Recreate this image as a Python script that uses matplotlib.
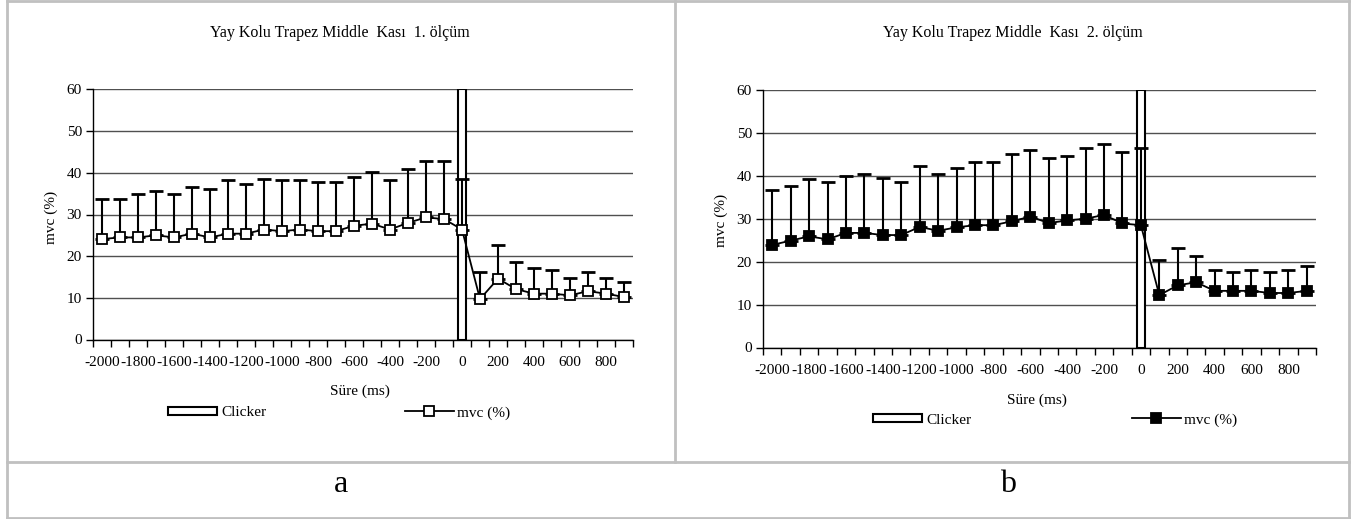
import matplotlib
matplotlib.use("Agg")
import matplotlib.pyplot as plt
from matplotlib.lines import Line2D
import numpy as np

plt.rcParams['font.family'] = ['Liberation Serif', 'DejaVu Serif']

# ---- data ----
times = list(range(-2000, 1000, 100))          # Süre (ms)
tick_labels = [str(t) if t % 200 == 0 else "" for t in times]

clicker_time = 0
clicker_value = 60

mvc_1 = [24.1, 24.5, 24.5, 25.0, 24.5, 25.4, 24.5, 25.4, 25.4, 26.4,
         26.0, 26.4, 26.0, 26.0, 27.3, 27.8, 26.4, 28.0, 29.3, 28.9,
         26.4, 9.7, 14.6, 12.1, 11.0, 11.0, 10.6, 11.6, 11.0, 10.2]
sd_1 = [9.7, 9.3, 10.4, 10.7, 10.4, 11.3, 11.7, 12.8, 11.8, 12.2,
        12.2, 11.8, 11.7, 11.7, 11.8, 12.3, 11.8, 13.0, 13.6, 14.0,
        12.2, 6.4, 8.2, 6.5, 6.2, 5.7, 4.2, 4.6, 3.8, 3.6]

mvc_2 = [23.9, 24.9, 25.9, 25.2, 26.7, 26.7, 26.2, 26.2, 28.1, 27.2,
         28.0, 28.5, 28.5, 29.4, 30.5, 29.0, 29.6, 30.0, 30.9, 28.9,
         28.5, 12.2, 14.5, 15.2, 13.2, 13.2, 13.2, 12.7, 12.7, 13.2]
sd_2 = [12.9, 12.8, 13.3, 13.4, 13.2, 13.8, 13.3, 12.4, 14.2, 13.3,
        13.8, 14.7, 14.7, 15.7, 15.5, 15.2, 15.1, 16.6, 16.6, 16.7,
        18.0, 8.2, 8.7, 6.2, 4.8, 4.4, 4.8, 4.9, 5.3, 5.8]

titles = ["Yay Kolu Trapez Middle  Kası  1. ölçüm",
          "Yay Kolu Trapez Middle  Kası  2. ölçüm"]
panel_letters = ["a", "b"]

# ---- figure ----
W, H = 1351, 519
fig = plt.figure(figsize=(W / 100, H / 100), dpi=100)


def fx(x):
    return x / W


def fy(y):
    return 1 - y / H


def add_axes_px(left, right, top, bottom):
    return fig.add_axes([fx(left), fy(bottom), (right - left) / W, (bottom - top) / H])


FS = 11
grid_color = '#505050'
border_color = '#c0c0c0'

# table borders
for (x0, y0, x1, y1) in [(6.5, 1, 1349, 1), (6.5, 517.5, 1349, 517.5),
                         (6.5, 1, 6.5, 517.5), (1349, 1, 1349, 517.5),
                         (675, 1, 675, 461.5), (6.5, 461.5, 1349, 461.5)]:
    fig.add_artist(Line2D([fx(x0), fx(x1)], [fy(y0), fy(y1)],
                          color=border_color, lw=2, transform=fig.transFigure))

panels = [
    dict(box=(93, 633, 89.5, 339.5), mvc=mvc_1, sd=sd_1, face='white',
         title=(340, 33), ylab=(51, 217), xlab=(360, 391),
         leg=(168, 405, 413), letter=(341, 491.5)),
    dict(box=(763, 1316, 90, 347.5), mvc=mvc_2, sd=sd_2, face='black',
         title=(1013, 33), ylab=(721, 220), xlab=(1037, 400),
         leg=(873, 1132, 420), letter=(1008, 491.5)),
]

x = np.arange(len(times))
ci = times.index(clicker_time)

for i, p in enumerate(panels):
    ax = add_axes_px(*p['box'])
    bars = ax.bar([x[ci]], [clicker_value], width=0.45, color='white',
                  edgecolor='black', linewidth=1.5, zorder=2, label='Clicker')
    mvc = np.array(p['mvc'])
    sd = np.array(p['sd'])
    ax.errorbar(x, mvc, yerr=[np.zeros_like(sd), sd], fmt='none',
                ecolor='black', elinewidth=1.5, capsize=5, capthick=2.0, zorder=3)
    line, = ax.plot(x, mvc, color='black', lw=1.3, marker='s', markersize=7.5,
                    markerfacecolor=p['face'], markeredgecolor='black',
                    markeredgewidth=1.3, zorder=4, label='mvc (%)')

    ax.set_xlim(-0.5, len(times) - 0.5)
    ax.set_ylim(0, 60)
    ax.set_yticks(range(0, 61, 10))
    ax.yaxis.grid(True, color=grid_color, lw=1.0)
    ax.set_axisbelow(True)
    ax.set_xticks(np.arange(-0.5, len(times), 1.0))
    ax.set_xticklabels([])
    ax.set_xticks(x, minor=True)
    ax.set_xticklabels(tick_labels, minor=True)
    ax.tick_params(axis='x', which='major', direction='out', length=5, width=1)
    ax.tick_params(axis='x', which='minor', length=0, pad=12, labelsize=FS)
    ax.tick_params(axis='y', direction='out', length=5, width=1, pad=3, labelsize=FS)
    for s in ['top', 'right']:
        ax.spines[s].set_visible(False)
    for s in ['left', 'bottom']:
        ax.spines[s].set_linewidth(1.0)
        ax.spines[s].set_color('black')

    tx, ty = p['title']
    fig.text(fx(tx), fy(ty), titles[i], ha='center', va='center', fontsize=11.5)
    lx, ly = p['ylab']
    fig.text(fx(lx), fy(ly), 'mvc (%)', ha='center', va='center',
             rotation=90, fontsize=11)
    sx, sy = p['xlab']
    fig.text(fx(sx), fy(sy), 'Süre (ms)', ha='center', va='center', fontsize=FS)

    c_x, m_x, leg_y = p['leg']
    fig.legend(handles=[bars], loc='center left', bbox_to_anchor=(fx(c_x), fy(leg_y)),
               frameon=False, fontsize=FS, borderpad=0, borderaxespad=0,
               handlelength=3.2, handleheight=0.5, handletextpad=0.3)
    fig.legend(handles=[line], loc='center left', bbox_to_anchor=(fx(m_x), fy(leg_y)),
               frameon=False, fontsize=FS, borderpad=0, borderaxespad=0,
               handlelength=3.2, handletextpad=0.2)

    ax_, ay_ = p['letter']
    fig.text(fx(ax_), fy(ay_), panel_letters[i], ha='center', va='baseline',
             fontsize=23)

fig.savefig('out.png', dpi=100)
